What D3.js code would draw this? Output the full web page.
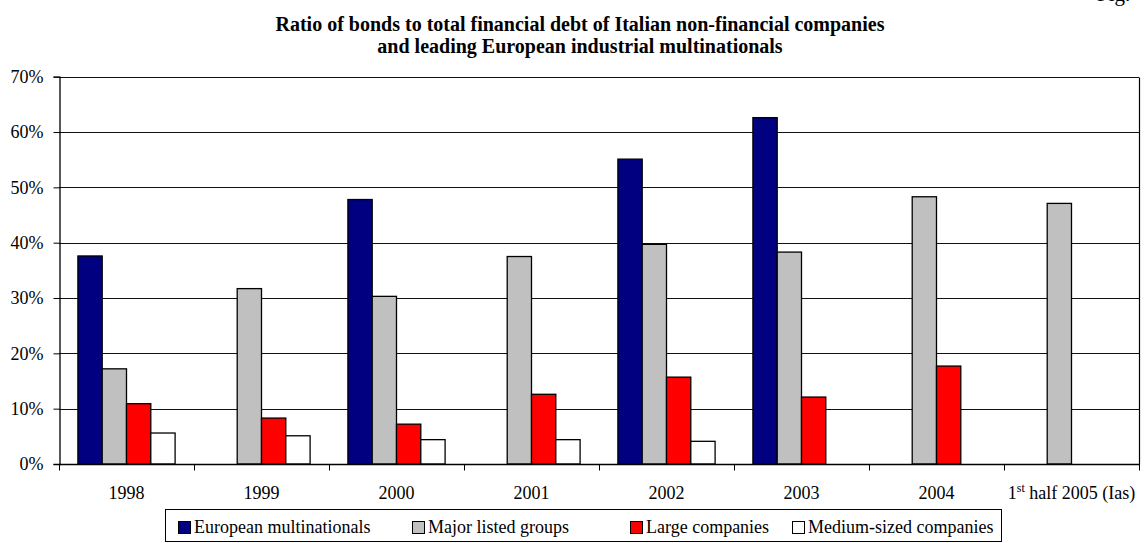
<!DOCTYPE html>
<html><head><meta charset="utf-8">
<script src="https://cdn.jsdelivr.net/npm/d3@7"></script>
<style>
html,body{margin:0;padding:0;background:#fff;}
svg{display:block;}
svg text{font-family:"Liberation Serif","Times New Roman","DejaVu Serif",serif !important;fill:#000;}
</style></head>
<body>
<svg id="chart" width="1145" height="543"></svg>
<script>
const categories = ["1998","1999","2000","2001","2002","2003","2004","2005H1"];
const seriesNames = ["European multinationals","Major listed groups","Large companies","Medium-sized companies"];
const seriesColors = ["#000080","#c0c0c0","#ff0000","#ffffff"];
const europeanMultinationals = [37.6, null, 47.8, null, 55.1, 62.6, null, null];
const majorListedGroups     = [17.2, 31.7, 30.3, 37.5, 39.7, 38.3, 48.3, 47.1];
const largeCompanies        = [10.9, 8.3, 7.2, 12.6, 15.7, 12.1, 17.7, null];
const mediumSizedCompanies  = [5.6, 5.1, 4.4, 4.4, 4.1, null, null, null];
const yTicks = [0,10,20,30,40,50,60,70];
const titleLines = ["Ratio of bonds to total financial debt of Italian non-financial companies",
                    "and leading European industrial multinationals"];

const seriesValues = [europeanMultinationals, majorListedGroups, largeCompanies, mediumSizedCompanies];
const SERIF = "Liberation Serif";

const svg = d3.select("#chart");
const plot = {left:59, right:1139, top:76.7, bottom:464};

const x = d3.scaleBand().domain(categories).range([plot.left, plot.right]).paddingInner(0).paddingOuter(0);
const xs = d3.scaleBand().domain(d3.range(seriesNames.length)).range([0, x.bandwidth()]).paddingInner(0).paddingOuter(0.778);
const y = d3.scaleLinear().domain([0,70]).range([plot.bottom, plot.top]);

// top-right fragment (cut off in the reference too)
svg.append("text").attr("x",1097).attr("y",0.5).attr("font-family",SERIF)
  .style("font-size","21px").text("Fig.");

// title
svg.append("g").selectAll("text").data(titleLines).join("text")
  .attr("x",580).attr("y",(d,i)=>31+i*22).attr("text-anchor","middle").attr("font-family",SERIF)
  .style("font-size","20px").style("font-weight","bold").text(d=>d);

// gridlines
svg.append("g").selectAll("line").data(yTicks.filter(t=>t>0)).join("line")
  .attr("x1",plot.left).attr("x2",plot.right)
  .attr("y1",d=>Math.round(y(d))+0.5).attr("y2",d=>Math.round(y(d))+0.5)
  .attr("stroke","#111").attr("stroke-width",1.2);
// right border
svg.append("line").attr("x1",plot.right+0.5).attr("x2",plot.right+0.5)
  .attr("y1",Math.round(y(70))+0.5).attr("y2",plot.bottom).attr("stroke","#000").attr("stroke-width",1.2);

// bars
const barData = [];
seriesValues.forEach((arr,si)=>arr.forEach((v,ci)=>{ if(v!=null) barData.push({si,ci,v}); }));
svg.append("g").selectAll("rect").data(barData).join("rect")
  .attr("x",d=>x(categories[d.ci])+xs(d.si))
  .attr("y",d=>y(d.v))
  .attr("width",xs.bandwidth())
  .attr("height",d=>y(0)-y(d.v))
  .attr("fill",d=>seriesColors[d.si])
  .attr("stroke","#000").attr("stroke-width",1.3);

// y axis
const yAxis = d3.axisLeft(y).tickValues(yTicks).tickFormat(d=>d+"%").tickSize(6).tickPadding(10);
const gy = svg.append("g").attr("transform",`translate(${plot.left+0.5},0)`).call(yAxis);
gy.attr("font-family",SERIF);
gy.select(".domain").attr("stroke","#000").attr("stroke-width",1.3);
gy.selectAll(".tick line").attr("stroke","#000");
gy.selectAll(".tick text").attr("font-family",SERIF).style("font-size","18px");

// x axis with ticks at category boundaries
const gx = svg.append("g").attr("transform",`translate(0,${plot.bottom+0.5})`);
gx.append("line").attr("x1",plot.left).attr("x2",plot.right+1).attr("stroke","#000").attr("stroke-width",1.3);
const boundaries = categories.map(c=>x(c)).concat([plot.right]);
gx.selectAll("line.tk").data(boundaries).join("line").attr("class","tk")
  .attr("x1",d=>Math.round(d)+0.5).attr("x2",d=>Math.round(d)+0.5).attr("y1",0).attr("y2",6).attr("stroke","#000");
const xl = gx.selectAll("text").data(categories).join("text")
  .attr("x",d=>x(d)+x.bandwidth()/2).attr("y",34.5).attr("text-anchor","middle").attr("font-family",SERIF)
  .style("font-size","18px");
xl.each(function(d){
  const t = d3.select(this);
  if(d==="2005H1"){
    t.append("tspan").text("1");
    t.append("tspan").attr("dy",-7).style("font-size","12px").text("st");
    t.append("tspan").attr("dy",7).text(" half 2005 (Ias)");
  } else t.text(d);
});

// legend
const legX = [178, 412, 630, 792];
const leg = svg.append("g");
leg.append("rect").attr("x",165.5).attr("y",509.5).attr("width",836).attr("height",32)
  .attr("fill","#fff").attr("stroke","#000");
const li = leg.selectAll("g.item").data(seriesNames).join("g").attr("class","item")
  .attr("transform",(d,i)=>`translate(${legX[i]},0)`);
li.append("rect").attr("x",0.5).attr("y",521.5).attr("width",12).attr("height",12)
  .attr("fill",(d,i)=>seriesColors[i]).attr("stroke","#000");
li.append("text").attr("x",16).attr("y",533).attr("font-family",SERIF).style("font-size","18px").text(d=>d);
</script>
</body></html>
